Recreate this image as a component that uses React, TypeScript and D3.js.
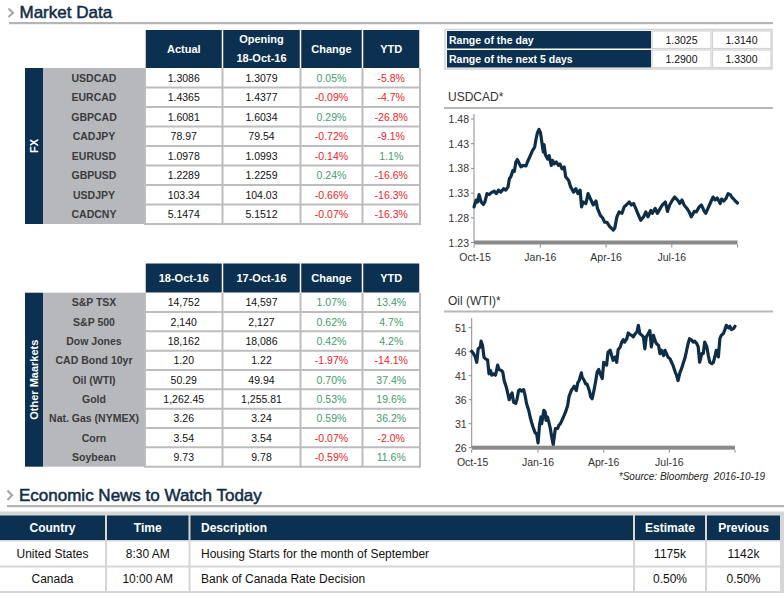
import React from 'react';
import * as d3 from 'd3';

const FONT = '"Liberation Sans", Arial, sans-serif';
const NAVY = '#0b3050';
const TITLE = '#0f2c47';
const GREEN = '#3f9c6d';
const RED = '#ee1d23';
const GRID = '#bdbdbd';
const LABEL_BG = '#b7b8bb';
const LINE = '#0e2e48';

// ---------- FX table ----------
const fxHeaders = [['Actual'], ['Opening', '18-Oct-16'], ['Change'], ['YTD']];
const fxPairs = ['USDCAD', 'EURCAD', 'GBPCAD', 'CADJPY', 'EURUSD', 'GBPUSD', 'USDJPY', 'CADCNY'];
const fxActual = ['1.3086', '1.4365', '1.6081', '78.97', '1.0978', '1.2289', '103.34', '5.1474'];
const fxOpening = ['1.3079', '1.4377', '1.6034', '79.54', '1.0993', '1.2259', '104.03', '5.1512'];
const fxChange = ['0.05%', '-0.09%', '0.29%', '-0.72%', '-0.14%', '0.24%', '-0.66%', '-0.07%'];
const fxYtd = ['-5.8%', '-4.7%', '-26.8%', '-9.1%', '1.1%', '-16.6%', '-16.3%', '-16.3%'];

// ---------- Other markets table ----------
const mktHeaders = [['18-Oct-16'], ['17-Oct-16'], ['Change'], ['YTD']];
const mktNames = ['S&P TSX', 'S&P 500', 'Dow Jones', 'CAD Bond 10yr', 'Oil (WTI)', 'Gold', 'Nat. Gas (NYMEX)', 'Corn', 'Soybean'];
const mktToday = ['14,752', '2,140', '18,162', '1.20', '50.29', '1,262.45', '3.26', '3.54', '9.73'];
const mktPrev = ['14,597', '2,127', '18,086', '1.22', '49.94', '1,255.81', '3.24', '3.54', '9.78'];
const mktChange = ['1.07%', '0.62%', '0.42%', '-1.97%', '0.70%', '0.53%', '0.59%', '-0.07%', '-0.59%'];
const mktYtd = ['13.4%', '4.7%', '4.2%', '-14.1%', '37.4%', '19.6%', '36.2%', '-2.0%', '11.6%'];

// ---------- Range table ----------
const rangeLabels = ['Range of the day', 'Range of the next 5 days'];
const rangeLow = ['1.3025', '1.2900'];
const rangeHigh = ['1.3140', '1.3300'];

// ---------- News table ----------
const newsHeaders = ['Country', 'Time', 'Description', 'Estimate', 'Previous'];
const newsCountry = ['United States', 'Canada'];
const newsTime = ['8:30 AM', '10:00 AM'];
const newsDesc = ['Housing Starts for the month of September', 'Bank of Canada Rate Decision'];
const newsEstimate = ['1175k', '0.50%'];
const newsPrevious = ['1142k', '0.50%'];

// ---------- Chart series: [days since 2015-10-01, value] ----------
const usdcadTicks = [1.23, 1.28, 1.33, 1.38, 1.43, 1.48];
const usdcadSeries: [number, number][] = [
  [0, 1.302], [3, 1.316], [5, 1.312], [7, 1.327], [10, 1.312], [13, 1.307], [15, 1.312], [18, 1.329],
  [21, 1.327], [24, 1.331], [28, 1.334], [31, 1.329], [34, 1.336], [37, 1.332], [41, 1.339], [44, 1.336],
  [47, 1.342], [49, 1.359], [51, 1.363], [54, 1.376], [56, 1.374], [58, 1.393], [60, 1.398], [63, 1.389],
  [65, 1.383], [68, 1.386], [72, 1.385], [74, 1.393], [78, 1.406], [81, 1.416], [84, 1.423], [86, 1.44],
  [88, 1.453], [90, 1.459], [92, 1.453], [94, 1.433], [96, 1.413], [97, 1.428], [99, 1.407], [102, 1.399],
  [104, 1.406], [107, 1.386], [109, 1.396], [111, 1.389], [114, 1.393], [117, 1.386], [119, 1.389], [122, 1.379],
  [125, 1.383], [127, 1.363], [131, 1.356], [134, 1.342], [138, 1.332], [141, 1.339], [144, 1.329], [147, 1.336],
  [149, 1.302], [151, 1.312], [155, 1.309], [158, 1.329], [162, 1.316], [165, 1.306], [169, 1.314], [171, 1.299],
  [175, 1.285], [178, 1.28], [181, 1.271], [184, 1.271], [188, 1.262], [193, 1.255], [195, 1.259], [198, 1.282],
  [201, 1.292], [205, 1.289], [208, 1.302], [211, 1.306], [215, 1.312], [218, 1.306], [221, 1.309], [224, 1.299],
  [228, 1.285], [231, 1.275], [235, 1.282], [238, 1.292], [241, 1.282], [245, 1.295], [247, 1.289], [251, 1.299],
  [254, 1.289], [258, 1.299], [261, 1.306], [265, 1.312], [268, 1.293], [271, 1.306], [275, 1.316], [278, 1.322],
  [282, 1.316], [285, 1.309], [288, 1.316], [291, 1.306], [295, 1.299], [298, 1.292], [301, 1.282], [305, 1.293],
  [308, 1.292], [312, 1.302], [315, 1.306], [319, 1.293], [321, 1.289], [325, 1.302], [328, 1.312], [331, 1.322],
  [334, 1.316], [337, 1.32], [341, 1.309], [343, 1.318], [346, 1.314], [349, 1.319], [352, 1.329], [355, 1.327],
  [357, 1.322], [359, 1.319], [362, 1.314], [365, 1.31],
];

const oilTicks = [26, 31, 36, 41, 46, 51];
const oilSeries: [number, number][] = [
  [0, 46.1], [2, 45.7], [5, 44.9], [7, 43.8], [9, 46.6], [12, 47.0], [13, 48.2], [15, 47.3], [17, 44.9],
  [19, 44.5], [22, 44.3], [24, 41.4], [26, 42.1], [28, 41.1], [30, 41.4], [33, 41.1], [36, 43.2], [38, 42.3],
  [41, 42.1], [43, 41.8], [45, 40.0], [48, 38.6], [50, 37.3], [52, 36.0], [54, 36.9], [56, 37.4], [58, 35.5],
  [61, 35.2], [63, 36.2], [65, 37.9], [67, 38.1], [69, 37.8], [72, 38.1], [74, 36.9], [76, 35.2], [79, 33.8],
  [81, 32.4], [83, 31.3], [85, 30.3], [88, 29.1], [90, 28.9], [92, 27.0], [94, 30.7], [96, 32.4], [97, 31.0],
  [100, 33.8], [102, 33.4], [103, 31.7], [105, 32.4], [107, 31.3], [109, 30.0], [111, 28.2], [113, 26.6],
  [115, 28.9], [116, 30.0], [119, 30.0], [121, 30.7], [123, 31.0], [126, 32.0], [128, 32.7], [130, 33.4],
  [133, 34.8], [135, 36.7], [138, 37.9], [140, 38.3], [142, 38.8], [145, 37.9], [147, 39.5], [149, 40.0],
  [152, 41.6], [153, 40.7], [156, 40.0], [158, 39.3], [160, 39.2], [163, 37.9], [165, 36.6], [167, 36.2],
  [170, 38.3], [172, 40.0], [174, 41.8], [176, 42.3], [179, 41.1], [181, 40.4], [183, 43.8], [187, 43.2],
  [189, 45.9], [192, 46.3], [194, 45.2], [196, 44.2], [199, 44.9], [201, 43.8], [203, 46.4], [206, 47.0],
  [208, 48.0], [210, 48.5], [212, 48.0], [215, 48.7], [217, 49.9], [219, 49.6], [222, 49.4], [224, 49.1],
  [226, 49.6], [229, 50.1], [231, 51.5], [233, 49.8], [236, 49.4], [238, 49.1], [240, 46.6], [242, 49.1],
  [245, 49.8], [247, 50.4], [249, 47.0], [252, 49.4], [254, 48.4], [256, 47.7], [259, 47.3], [261, 45.6],
  [263, 46.3], [266, 45.2], [268, 46.3], [270, 45.6], [272, 44.9], [275, 44.5], [277, 43.8], [279, 43.2],
  [282, 41.8], [284, 41.1], [286, 40.0], [289, 41.8], [291, 42.5], [293, 43.5], [296, 44.9], [298, 46.3],
  [300, 47.7], [302, 48.7], [305, 48.4], [307, 48.0], [309, 48.2], [312, 47.7], [314, 47.0], [316, 43.8],
  [319, 45.6], [321, 45.6], [323, 48.0], [326, 47.0], [328, 45.2], [330, 43.8], [333, 43.5], [335, 43.8],
  [337, 44.9], [339, 46.3], [342, 44.9], [344, 48.7], [346, 49.4], [349, 49.8], [351, 50.6], [353, 51.5],
  [356, 51.0], [358, 51.3], [360, 50.6], [363, 50.8], [365, 51.3],
];

const START = new Date(2015, 9, 1);
const END = new Date(2016, 8, 30);
const xTickDates = [new Date(2015, 9, 1), new Date(2016, 0, 1), new Date(2016, 3, 1), new Date(2016, 6, 1)];
const fmtMonth = d3.timeFormat('%b-%y');

const COLS = [145, 222.5, 300.5, 362.5, 420];

const colorFor = (s: string) => (s.trim().startsWith('-') ? RED : GREEN);

function MarketTable(props: {
  top: number; headerH: number; rowH: number; headers: string[][]; names: string[];
  columns: string[][]; side: string;
}) {
  const { top, headerH, rowH, headers, names, columns, side } = props;
  const bodyTop = top + headerH;
  const n = names.length;
  const yRow = d3.scaleLinear().domain([0, n]).range([bodyTop, bodyTop + n * rowH]);
  const bodyBottom = yRow(n);
  const colCenter = (i: number) => (COLS[i] + COLS[i + 1]) / 2;
  return (
    <g fontFamily={FONT}>
      {headers.map((h, i) => (
        <g key={'h' + i}>
          <rect x={COLS[i] + 0.75} y={top} width={COLS[i + 1] - COLS[i] - 1.5} height={headerH} fill={NAVY} />
          {h.length === 1 ? (
            <text x={colCenter(i)} y={top + headerH / 2 - 0.5} textAnchor="middle" dominantBaseline="central"
              fill="#fff" fontWeight="bold" fontSize={11}>{h[0]}</text>
          ) : (
            h.map((line, j) => (
              <text key={j} x={colCenter(i)} y={top + 8.5 + j * 19} textAnchor="middle" dominantBaseline="central"
                fill="#fff" fontWeight="bold" fontSize={11}>{line}</text>
            ))
          )}
        </g>
      ))}
      <rect x={25} y={bodyTop} width={18} height={bodyBottom - bodyTop} fill={NAVY} />
      <rect x={43} y={bodyTop} width={COLS[0] - 43} height={bodyBottom - bodyTop} fill={LABEL_BG} />
      <rect x={COLS[0]} y={bodyTop} width={COLS[4] - COLS[0]} height={bodyBottom - bodyTop} fill="#fff" />
      {d3.range(1, n + 1).map((i) => (
        <line key={'r' + i} x1={COLS[0]} x2={COLS[4]} y1={yRow(i)} y2={yRow(i)} stroke={GRID} strokeWidth={2} />
      ))}
      {COLS.map((c, i) => (
        <line key={'c' + i} x1={c} x2={c} y1={bodyTop} y2={bodyBottom + 1} stroke={GRID} strokeWidth={2} />
      ))}
      <text transform={`translate(34,${(bodyTop + bodyBottom) / 2}) rotate(-90)`} textAnchor="middle"
        dominantBaseline="central" fill="#fff" fontWeight="bold" fontSize={11}>{side}</text>
      {names.map((name, r) => {
        const cy = (yRow(r) + yRow(r + 1)) / 2;
        return (
          <g key={'row' + r}>
            <text x={94} y={cy} textAnchor="middle" dominantBaseline="central" fill="#3b3b3d"
              fontWeight="bold" fontSize={10.5}>{name}</text>
            {columns.map((col, ci) => (
              <text key={ci} x={colCenter(ci)} y={cy} textAnchor="middle" dominantBaseline="central"
                fontSize={10.5} fill={ci >= 2 ? colorFor(col[r]) : '#111'}>{col[r]}</text>
            ))}
          </g>
        );
      })}
    </g>
  );
}

function LineChart(props: {
  title: string; titleBaseline: number; ruleY: number; series: [number, number][]; ticks: number[];
  x0: number; x1: number; yTop: number; yBottom: number; axisTop: number;
}) {
  const { title, titleBaseline, ruleY, series, ticks, x0, x1, yTop, yBottom, axisTop } = props;
  const x = d3.scaleTime().domain([START, END]).range([x0, x1]);
  const y = d3.scaleLinear().domain([ticks[0], ticks[ticks.length - 1]]).range([yBottom, yTop]);
  const line = d3.line<[number, number]>()
    .x((d) => x(d3.timeDay.offset(START, d[0])))
    .y((d) => y(d[1]));
  const base = y(ticks[0]);
  return (
    <g fontFamily={FONT}>
      <text x={448} y={titleBaseline} fontSize={12} fill="#333">{title}</text>
      <rect x={444} y={ruleY - 1} width={329} height={2} fill="#b8b8b8" />
      <line x1={x0} x2={x0} y1={axisTop} y2={base} stroke="#8c8c8c" strokeWidth={1} />
      {ticks.map((t) => (
        <g key={t}>
          <line x1={x0 - 3} x2={x0} y1={y(t)} y2={y(t)} stroke="#8c8c8c" strokeWidth={1} />
          <text x={x0 - 5} y={y(t)} textAnchor="end" dominantBaseline="central" fontSize={10.5} fill="#333">
            {t.toFixed(Number.isInteger(t) ? 0 : 2)}
          </text>
        </g>
      ))}
      <path d={line(series) || ''} fill="none" stroke={LINE} strokeWidth={3.2} strokeLinejoin="round" strokeLinecap="round" />
      <rect x={x0} y={base - 2} width={x1 - x0} height={4} fill="#8a8a8a" />
      {[...xTickDates, END].map((d, i) => (
        <line key={'t' + i} x1={x(d)} x2={x(d)} y1={base + 2} y2={base + 5} stroke="#8a8a8a" strokeWidth={1} />
      ))}
      {xTickDates.map((d, i) => (
        <text key={'l' + i} x={x(d) + (i === 0 ? 1 : 0)} y={base + 18} textAnchor="middle" fontSize={10.5} fill="#333">
          {fmtMonth(d)}
        </text>
      ))}
    </g>
  );
}

function RangeTable() {
  const rowTop = [31, 50];
  const rowH = 17.5;
  return (
    <g fontFamily={FONT}>
      <rect x={445} y={29.5} width={327} height={39.5} fill="#fff" stroke="#d3d3d3" strokeWidth={1.5} />
      {rangeLabels.map((lab, i) => (
        <g key={i}>
          <rect x={447} y={rowTop[i]} width={204} height={rowH} fill={NAVY} />
          <text x={449} y={rowTop[i] + rowH / 2} dominantBaseline="central" fill="#fff" fontWeight="bold" fontSize={10.5}>{lab}</text>
          <rect x={652} y={rowTop[i]} width={59} height={rowH} fill="#fff" stroke="#d3d3d3" strokeWidth={1.2} />
          <rect x={712.5} y={rowTop[i]} width={58.5} height={rowH} fill="#fff" stroke="#d3d3d3" strokeWidth={1.2} />
          <text x={681.5} y={rowTop[i] + rowH / 2} textAnchor="middle" dominantBaseline="central" fontSize={10.5} fill="#111">{rangeLow[i]}</text>
          <text x={741.5} y={rowTop[i] + rowH / 2} textAnchor="middle" dominantBaseline="central" fontSize={10.5} fill="#111">{rangeHigh[i]}</text>
        </g>
      ))}
    </g>
  );
}

function NewsTable() {
  const cols = [0, 106, 189.5, 634, 706, 781];
  const rows = [[515.5, 24.5], [541.5, 24], [567.5, 23.5]];
  const body = [newsCountry, newsTime, newsDesc, newsEstimate, newsPrevious];
  const cellX = (i: number) => cols[i] + (i === 0 ? 0 : 1);
  const cellW = (i: number) => cols[i + 1] - cols[i] - (i === 0 ? 1 : 2);
  const textX = (i: number) => (i === 2 ? cols[i] + 11.5 : cellX(i) + cellW(i) / 2);
  const anchor = (i: number) => (i === 2 ? 'start' : 'middle');
  return (
    <g fontFamily={FONT}>
      <rect x={0} y={511.5} width={784} height={81.5} fill="#d6d6d6" />
      {newsHeaders.map((h, i) => (
        <g key={'h' + i}>
          <rect x={cellX(i)} y={rows[0][0]} width={cellW(i)} height={rows[0][1]} fill={NAVY} />
          <text x={textX(i)} y={rows[0][0] + rows[0][1] / 2} textAnchor={anchor(i)} dominantBaseline="central"
            fill="#fff" fontWeight="bold" fontSize={12}>{h}</text>
        </g>
      ))}
      {[0, 1].map((r) => (
        <g key={'r' + r}>
          {body.map((col, i) => (
            <g key={i}>
              <rect x={cellX(i)} y={rows[r + 1][0]} width={cellW(i)} height={rows[r + 1][1]} fill="#fff" />
              <text x={textX(i)} y={rows[r + 1][0] + rows[r + 1][1] / 2} textAnchor={anchor(i)} dominantBaseline="central"
                fill="#111" fontSize={12}>{col[r]}</text>
            </g>
          ))}
        </g>
      ))}
    </g>
  );
}

export default function App() {
  return (
    <div style={{ position: 'absolute', left: 0, top: 0 }}>
      <svg width={784} height={596} style={{ display: 'block', background: '#fff' }}>
        {/* Market Data header */}
        <polyline points="8.5,8.5 13,12.8 8.5,17" fill="none" stroke="#a8a8a8" strokeWidth={2.2} />
        <text x={19.5} y={17.5} fontFamily={FONT} fontSize={17} fill={TITLE} stroke={TITLE} strokeWidth={0.5}>Market Data</text>
        <rect x={9} y={22} width={764} height={2.2} fill="#b5b5b5" />

        <MarketTable top={30} headerH={38} rowH={19.5} headers={fxHeaders} names={fxPairs}
          columns={[fxActual, fxOpening, fxChange, fxYtd]} side="FX" />
        <MarketTable top={263.5} headerH={29.2} rowH={19.33} headers={mktHeaders} names={mktNames}
          columns={[mktToday, mktPrev, mktChange, mktYtd]} side="Other Maarkets" />

        <RangeTable />

        <LineChart title="USDCAD*" titleBaseline={100.5} ruleY={108} series={usdcadSeries} ticks={usdcadTicks}
          x0={474} x1={737.5} yTop={119} yBottom={242.5} axisTop={114} />
        <LineChart title="Oil (WTI)*" titleBaseline={305} ruleY={311.5} series={oilSeries} ticks={oilTicks}
          x0={471.7} x1={735} yTop={327.7} yBottom={447.7} axisTop={318} />

        <text x={765} y={480} textAnchor="end" fontFamily={FONT} fontStyle="italic" fontSize={10} fill="#222"
          style={{ whiteSpace: 'pre' }}>{'*Source: Bloomberg  2016-10-19'}</text>

        {/* Economic News header */}
        <polyline points="7.5,490.5 12,495.3 7.5,500" fill="none" stroke="#a8a8a8" strokeWidth={2.2} />
        <text x={19} y={500.5} fontFamily={FONT} fontSize={17} fill={TITLE} stroke={TITLE} strokeWidth={0.5}>Economic News to Watch Today</text>
        <rect x={7} y={505} width={777} height={2.2} fill="#b5b5b5" />

        <NewsTable />
      </svg>
    </div>
  );
}
